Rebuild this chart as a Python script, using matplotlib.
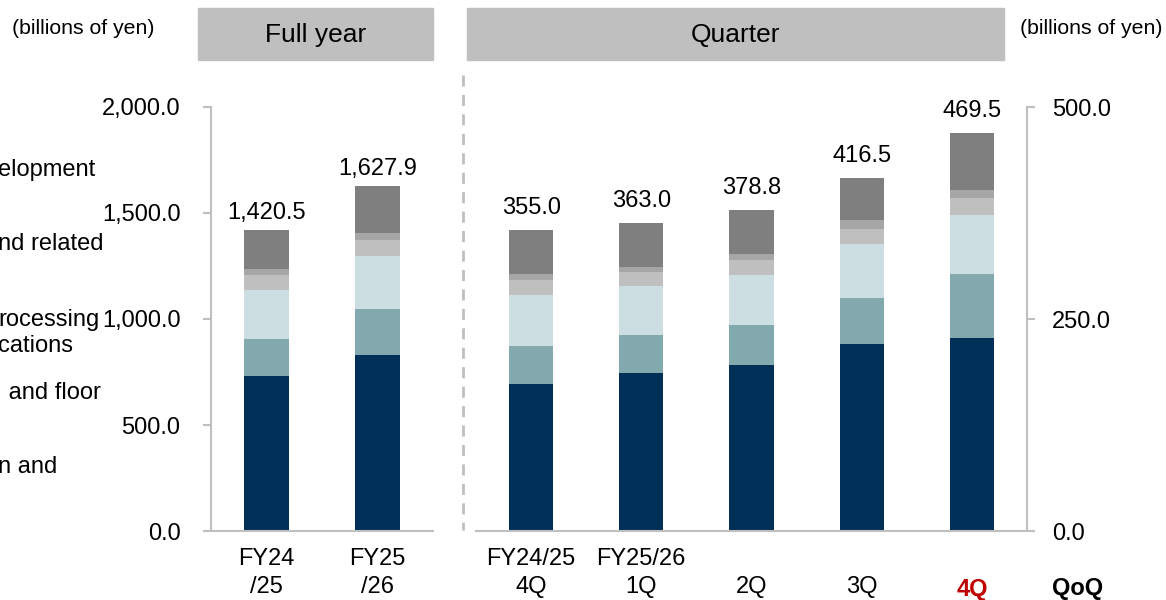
import matplotlib
matplotlib.use('Agg')
import matplotlib.pyplot as plt
from matplotlib.patches import Rectangle
from matplotlib.lines import Line2D
import numpy as np

plt.rcParams['font.family'] = ['Liberation Sans', 'DejaVu Sans']

# full year data (billions of yen), bottom segment first
fy_labels = ['FY24\n/25', 'FY25\n/26']
fy_totals = [1420.5, 1627.9]
fy_seg1 = [731, 829]
fy_seg2 = [176, 220]
fy_seg3 = [230, 250]
fy_seg4 = [71, 74]
fy_seg5 = [27, 34]
fy_seg6 = [185.5, 220.9]

# quarter data
q_labels = ['FY24/25\n4Q', 'FY25/26\n1Q', '\n2Q', '\n3Q', '\n4Q']
q_totals = [355.0, 363.0, 378.8, 416.5, 469.5]
q_seg1 = [173, 186.3, 195.4, 220.8, 227.9]
q_seg2 = [44.8, 45.2, 47.2, 53.9, 75.5]
q_seg3 = [60.5, 57.4, 59.3, 63.7, 69.2]
q_seg4 = [17.7, 16.1, 17.7, 17.7, 20.4]
q_seg5 = [7, 6.6, 7.1, 10.6, 9.4]
q_seg6 = [52, 51.4, 52.1, 49.8, 67.1]

# cropped legend text on the left edge
legend_bits = ['elopment', 'nd related', 'rocessing', 'cations', ' and floor', 'n and']

colors = ['#003057', '#82A9AD', '#CCDEE1', '#BFBFBF', '#A6A6A6', '#7F7F7F']
grid_c = '#BFBFBF'
fs = 17

fig = plt.figure(figsize=(11.66, 6), dpi=100)

def px(x, y):
    return x / 1166, 1 - y / 600

def stack(ax, segs, totals, labels, gap):
    x = np.arange(len(totals))
    bottom = np.zeros(len(totals))
    for s, c in zip(segs, colors):
        ax.bar(x, s, 0.4, bottom=bottom, color=c, linewidth=0)
        bottom += np.array(s)
    for xi, b, t in zip(x, bottom, totals):
        ax.annotate('{:,.1f}'.format(t), (xi, b), xytext=(0, gap), textcoords='offset points',
                    ha='center', va='bottom', fontsize=fs)
    ax.set_xticks(x)
    ax.set_xticklabels(labels, fontsize=fs, linespacing=1.4, va='top')
    ax.tick_params(axis='x', length=0, pad=12)
    ax.set_xlim(-0.5, len(totals) - 0.5)
    for sp in ax.spines.values():
        sp.set_color(grid_c)
        sp.set_linewidth(1.5)
    ax.spines['top'].set_visible(False)

# left: full year
ax1 = fig.add_axes([211 / 1166, 69 / 600, 222 / 1166, 424 / 600])
stack(ax1, [fy_seg1, fy_seg2, fy_seg3, fy_seg4, fy_seg5, fy_seg6], fy_totals, fy_labels, 4)
ax1.spines['right'].set_visible(False)
ax1.set_ylim(0, 2000)
ax1.set_yticks(np.arange(0, 2001, 500))
ax1.set_yticklabels(['{:,.1f}'.format(v) for v in np.arange(0, 2001, 500)], fontsize=fs)
ax1.tick_params(axis='y', length=6, width=1.5, color=grid_c, pad=16)

# right: quarters
ax2 = fig.add_axes([476 / 1166, 69 / 600, 551 / 1166, 424 / 600])
stack(ax2, [q_seg1, q_seg2, q_seg3, q_seg4, q_seg5, q_seg6], q_totals, q_labels, 8)
ax2.spines['left'].set_visible(False)
ax2.set_ylim(0, 500)
ax2.yaxis.tick_right()
ax2.set_yticks([0, 250, 500])
ax2.set_yticklabels(['{:,.1f}'.format(v) for v in [0, 250, 500]], fontsize=fs)
ax2.tick_params(axis='y', length=6, width=1.5, color=grid_c, pad=12)
last = ax2.get_xticklabels()[-1]
last.set_color('#C00000')
last.set_fontweight('bold')

fig.text(*px(1078, 588), 'QoQ', ha='center', va='center', fontsize=fs, fontweight='bold')

# header boxes
for x0, x1, title in [(198, 433, 'Full year'), (467, 1004, 'Quarter')]:
    fx, fy = px(x0, 60)
    fig.patches.append(Rectangle((fx, fy), (x1 - x0) / 1166, 52 / 600,
                                 transform=fig.transFigure, color='#BFBFBF', zorder=0))
    cx, cy = px((x0 + x1) / 2, 35)
    fig.text(cx, cy, title, ha='center', va='center', fontsize=19)

fig.text(*px(12, 28), '(billions of yen)', ha='left', va='center', fontsize=15.3)
fig.text(*px(1020, 28), '(billions of yen)', ha='left', va='center', fontsize=15.3)

# dashed divider
fig.add_artist(Line2D([463 / 1166, 463 / 1166], [1 - 75 / 600, 1 - 530 / 600],
                      transform=fig.transFigure, color=grid_c, lw=2, ls=(0, (4, 3))))

for txt, (x, y) in zip(legend_bits, [(-2, 170), (-2, 244), (-2, 320), (-2, 346), (2, 393), (-2, 467)]):
    fig.text(*px(x, y), txt, ha='left', va='center', fontsize=fs)

fig.savefig('out.png', dpi=100)
